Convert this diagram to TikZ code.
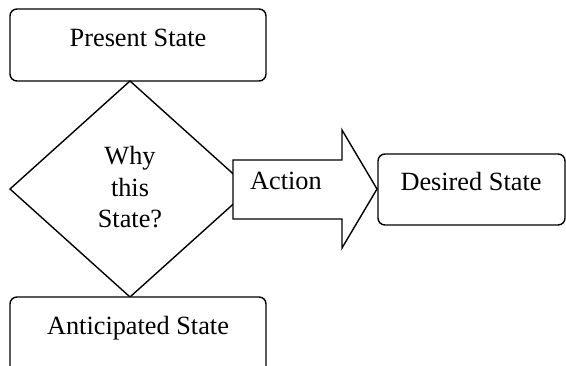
\documentclass[tikz,border=0pt]{standalone}
\usepackage{fontspec}
\setmainfont{Liberation Serif}
\usetikzlibrary{shapes.geometric}
\begin{document}
\begin{tikzpicture}[x=1pt,y=-1pt,
  line width=1.4pt, line join=miter,
  box/.style={draw, rounded corners=7pt, fill=white, inner sep=0pt},
  lbl/.style={font=\fontsize{26.3}{31.5}\selectfont, inner sep=0pt, anchor=base, align=center}]
\useasboundingbox (0,0) rectangle (566,366);
% Present State
\draw[box] (10,9) rectangle (266,81);
\node[lbl] (present) at (138,47) {Present State};
% Diamond
\draw[fill=white] (130,81) coordinate (dtop) -- (10,189) coordinate (dleft)
  -- (130,297) coordinate (dbot) -- (250,189) coordinate (dright) -- cycle;
\node[lbl] (why) at (130,228) {Why\\this\\State?};
% Action arrow
\draw[fill=white] (233,160) -- (342,160) -- (342,130) -- (377,189) coordinate (tip)
  -- (342,248) -- (342,219) -- (233,219) -- cycle;
\node[lbl] (action) at (286,190) {Action};
% Desired State
\draw[box] (378,154) rectangle (565,225);
\node[lbl] (desired) at (471,191) {Desired State};
% Anticipated State
\draw[box] (10,297) rectangle (266,385);
\node[lbl] (anticipated) at (138,335) {Anticipated State};
\end{tikzpicture}
\end{document}
